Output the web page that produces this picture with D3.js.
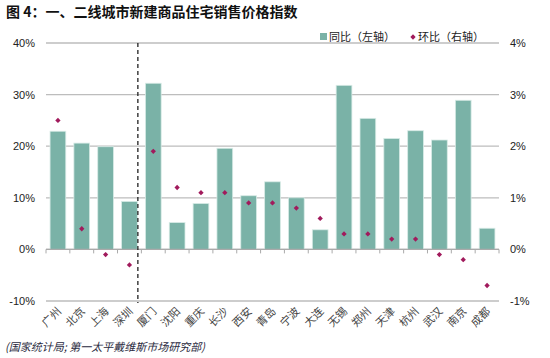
<!DOCTYPE html>
<html>
<head>
<meta charset="utf-8">
<script src="https://cdn.jsdelivr.net/npm/d3@7/dist/d3.min.js"></script>
<style>
  body { margin: 0; background: #fff; }
  text { font-family: "Liberation Sans", Arial, sans-serif; }
  .cjk { font-family: "Noto Sans CJK SC", sans-serif; }
</style>
</head>
<body>
<svg id="chart" width="550" height="358"></svg>
<script>
var cities = ["广州","北京","上海","深圳","厦门","沈阳","重庆","长沙","西安","青岛","宁波","大连","无锡","郑州","天津","杭州","武汉","南京","成都"];
var yoy = [22.9, 20.6, 19.9, 9.3, 32.2, 5.2, 8.9, 19.6, 10.4, 13.1, 10.0, 3.8, 31.8, 25.4, 21.5, 23.0, 21.2, 28.9, 4.1];
var mom = [2.5, 0.4, -0.1, -0.3, 1.9, 1.2, 1.1, 1.1, 0.9, 0.9, 0.8, 0.6, 0.3, 0.3, 0.2, 0.2, -0.1, -0.2, -0.7];
var leftTicks = [-10, 0, 10, 20, 30, 40];
var rightTicks = [-1, 0, 1, 2, 3, 4];

var svg = d3.select("#chart");
var plotL = 46, plotR = 499, plotT = 43, plotB = 301;

var x = d3.scaleBand().domain(cities).range([plotL, plotR]).padding(0);
var barW = x.bandwidth() * 0.66;
var yL = d3.scaleLinear().domain([-10, 40]).range([plotB, plotT]);
var yR = d3.scaleLinear().domain([-1, 4]).range([plotB, plotT]);

// title
svg.append("text").attr("class", "cjk").attr("x", 6).attr("y", 17)
  .attr("font-size", 14).attr("font-weight", "bold").attr("fill", "#111")
  .text("图 4：一、二线城市新建商品住宅销售价格指数");

// gridlines
svg.append("g").selectAll("line").data(leftTicks).enter().append("line")
  .attr("x1", plotL).attr("x2", plotR)
  .attr("y1", d => yL(d)).attr("y2", d => yL(d))
  .attr("stroke", "#bdbdbd").attr("stroke-width", 1.3);

// left axis labels
svg.append("g").selectAll("text").data(leftTicks).enter().append("text")
  .attr("x", 35).attr("y", d => yL(d) + 4).attr("text-anchor", "end")
  .attr("font-size", 11).attr("fill", "#222").text(d => d + "%");

// right axis labels
svg.append("g").selectAll("text").data(rightTicks).enter().append("text")
  .attr("x", 510).attr("y", d => yR(d) + 4).attr("text-anchor", "start")
  .attr("font-size", 11).attr("fill", "#222").text(d => d + "%");

// bars
svg.append("g").selectAll("rect").data(cities).enter().append("rect")
  .attr("x", d => x(d) + (x.bandwidth() - barW) / 2).attr("width", barW)
  .attr("y", (d, i) => Math.min(yL(yoy[i]), yL(0)))
  .attr("height", (d, i) => Math.abs(yL(yoy[i]) - yL(0)))
  .attr("fill", "#7ab2a7").attr("stroke", "#d8ebe6").attr("stroke-width", 0.8);

// zero axis with ticks at category edges
var edges = cities.map(d => x(d)).concat([plotR]);
svg.append("line").attr("x1", plotL).attr("x2", plotR).attr("y1", yL(0)).attr("y2", yL(0))
  .attr("stroke", "#aaa").attr("stroke-width", 1.3);
svg.append("g").selectAll("line").data(edges).enter().append("line")
  .attr("x1", d => d).attr("x2", d => d).attr("y1", yL(0)).attr("y2", yL(0) + 4)
  .attr("stroke", "#aaa").attr("stroke-width", 1);

// divider between tier-1 and tier-2 cities
var divX = x("厦门") - 3.5;
svg.append("line").attr("x1", divX).attr("x2", divX)
  .attr("y1", plotT).attr("y2", plotB + 2)
  .attr("stroke", "#222").attr("stroke-width", 1.3).attr("stroke-dasharray", "4,3");

// mom diamonds (rotated squares)
var marker = d3.symbol().type(d3.symbolSquare).size(14);
svg.append("g").selectAll("path").data(cities).enter().append("path")
  .attr("d", marker)
  .attr("transform", (d, i) => "translate(" + (x(d) + x.bandwidth() / 2) + "," + yR(mom[i]) + ") rotate(45)")
  .attr("fill", "#a11a5c");

// x labels
svg.append("g").selectAll("text").data(cities).enter().append("text")
  .attr("class", "cjk")
  .attr("transform", d => "translate(" + (x(d) + x.bandwidth() / 2 + 4) + ",312) rotate(-45)")
  .attr("text-anchor", "end").attr("font-size", 11).attr("fill", "#444")
  .text(d => d);

// legend
var lg = svg.append("g").attr("transform", "translate(320,37)");
lg.append("rect").attr("x", 0).attr("y", -4).attr("width", 7).attr("height", 7).attr("fill", "#7ab2a7");
lg.append("text").attr("class", "cjk").attr("x", 9).attr("y", 4).attr("font-size", 11).attr("fill", "#222").text("同比（左轴）");
lg.append("path").attr("d", marker).attr("transform", "translate(93,0) rotate(45)").attr("fill", "#a11a5c");
lg.append("text").attr("class", "cjk").attr("x", 98).attr("y", 4).attr("font-size", 11).attr("fill", "#222").text("环比（右轴）");

// source
svg.append("text").attr("class", "cjk").attr("x", 5).attr("y", 351)
  .attr("font-size", 11).attr("font-style", "italic").attr("fill", "#2a2a40")
  .text("(国家统计局; 第一太平戴维斯市场研究部)");
</script>
</body>
</html>
